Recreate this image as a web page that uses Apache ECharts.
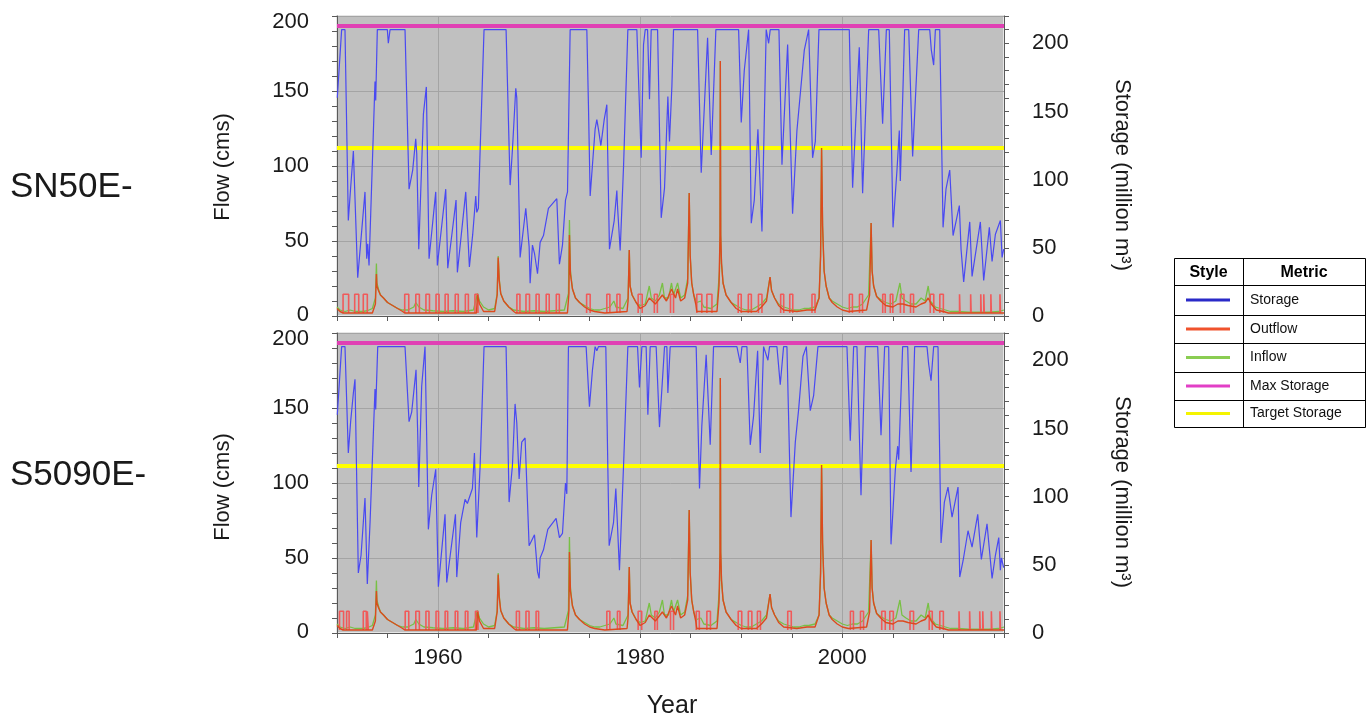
<!DOCTYPE html>
<html><head><meta charset="utf-8">
<script src="https://cdn.jsdelivr.net/npm/echarts@6/dist/echarts.min.js"></script>
<style>html,body{margin:0;padding:0;background:#fff}#c{width:1371px;height:719px}</style>
</head><body><div id="c"></div><script>
// ---------------- data ----------------
const panelNames = ['SN50E-', 'S5090E-'];
const yearRange = [1950, 2016];
const yearTickLabels = [1960, 1980, 2000];
const flowRange = [0, 200];
const storageRange = [0, 220];
const maxStorage = [213, 213];
const targetStorage = [123.5, 122.5];
const pulseLevels = [2, 14.5];

const storageTop = [[1950.03,160],[1950.46,210],[1950.79,210],[1951.12,70],[1951.35,94],[1951.62,121],[1951.78,121],[1952.05,28],[1952.77,91],[1952.94,42],[1953.04,53],[1953.17,37],[1953.76,172],[1953.83,158],[1953.99,210],[1954.98,210],[1955.08,200],[1955.25,210],[1956.73,210],[1957.13,93],[1957.49,107],[1957.79,130],[1957.89,119],[1958.09,49],[1958.55,148],[1958.84,168],[1959.11,42],[1959.77,91],[1959.93,37],[1960.76,93],[1960.96,35],[1961.78,85],[1961.91,32],[1962.74,91],[1963.10,36],[1963.43,60],[1963.73,88],[1963.83,76],[1963.99,79],[1964.16,121],[1964.55,210],[1966.73,210],[1967.13,96],[1967.36,122],[1967.69,167],[1967.79,160],[1968.12,43],[1968.68,79],[1969.01,51],[1969.11,24],[1969.34,52],[1969.54,46],[1969.84,31],[1970.10,54],[1970.43,59],[1970.92,79],[1971.75,86],[1972.01,38],[1972.31,52],[1972.41,53],[1972.61,85],[1972.81,91],[1973.07,210],[1974.72,210],[1974.88,155],[1975.05,88],[1975.28,111],[1975.54,137],[1975.71,144],[1975.87,137],[1976.11,125],[1976.44,144],[1976.70,155],[1976.96,49],[1977.43,70],[1977.69,92],[1977.76,80],[1978.02,48],[1978.35,109],[1978.78,210],[1979.67,210],[1980.10,116],[1980.33,199],[1980.50,210],[1980.73,210],[1980.92,159],[1981.09,210],[1981.72,210],[1982.08,72],[1982.41,94],[1982.74,161],[1982.90,128],[1983.14,169],[1983.30,210],[1985.68,210],[1986.04,105],[1986.67,204],[1987.03,118],[1987.49,210],[1989.74,210],[1990.00,142],[1990.30,180],[1990.73,210],[1990.99,68],[1991.29,85],[1991.65,137],[1992.05,62],[1992.47,210],[1992.71,200],[1992.87,210],[1993.73,210],[1994.03,111],[1994.59,199],[1995.08,75],[1995.51,136],[1996.24,195],[1996.67,210],[1997.06,116],[1997.33,128],[1997.69,210],[2000.69,210],[2001.02,94],[2001.68,197],[2002.01,90],[2002.61,210],[2003.60,210],[2003.99,141],[2004.36,210],[2004.65,210],[2005.02,65],[2005.41,107],[2005.64,136],[2005.74,99],[2006.17,210],[2006.57,210],[2006.96,117],[2007.56,210],[2008.65,210],[2008.81,195],[2009.04,184],[2009.21,210],[2009.64,210],[2009.97,65],[2010.26,93],[2010.63,107],[2010.96,59],[2011.58,81],[2011.75,49],[2012.01,25],[2012.61,69],[2012.84,29],[2013.66,69],[2013.99,26],[2014.55,65],[2014.82,40],[2015.15,60],[2015.64,70],[2015.81,43],[2015.97,49]];

const storageBottom = [[1950.03,160],[1950.46,210],[1950.79,210],[1951.12,132],[1951.35,155],[1951.62,176],[1951.78,186],[1952.11,44],[1952.38,57],[1952.77,99],[1953.00,36],[1953.27,81],[1953.76,179],[1953.83,164],[1954.03,210],[1956.73,210],[1957.13,155],[1957.39,162],[1957.82,193],[1957.99,145],[1958.09,107],[1958.38,181],[1958.71,210],[1959.04,76],[1959.37,101],[1959.77,120],[1960.03,34],[1960.69,87],[1960.86,37],[1961.72,87],[1961.85,41],[1962.24,81],[1962.67,98],[1962.90,95],[1963.40,106],[1963.60,132],[1963.83,70],[1964.16,122],[1964.55,210],[1966.73,210],[1967.03,96],[1967.36,123],[1967.62,168],[1967.79,154],[1968.02,113],[1968.28,140],[1968.61,143],[1969.01,64],[1969.54,72],[1969.84,45],[1970.00,40],[1970.10,55],[1970.43,61],[1970.86,76],[1971.68,84],[1972.01,70],[1972.31,73],[1972.61,110],[1972.74,102],[1972.90,210],[1974.65,210],[1974.98,166],[1975.28,193],[1975.54,210],[1975.71,207],[1975.87,210],[1976.60,210],[1976.93,64],[1977.36,81],[1977.59,106],[1977.95,46],[1978.35,122],[1978.78,210],[1979.74,210],[1979.93,180],[1980.17,210],[1980.59,210],[1980.76,160],[1980.99,210],[1981.58,210],[1981.91,151],[1982.41,210],[1982.64,210],[1982.74,176],[1982.97,210],[1985.54,210],[1985.87,106],[1986.10,152],[1986.53,204],[1986.93,138],[1987.26,210],[1989.57,210],[1989.90,198],[1990.07,210],[1990.56,210],[1990.89,138],[1991.22,159],[1991.62,207],[1991.88,132],[1992.21,210],[1992.64,200],[1992.80,210],[1993.53,210],[1993.86,182],[1994.19,210],[1994.52,210],[1994.92,85],[1995.35,140],[1995.68,164],[1996.11,203],[1996.44,210],[1996.83,163],[1997.16,174],[1997.59,210],[2000.46,210],[2000.79,141],[2001.12,210],[2001.45,210],[2001.85,101],[2002.28,210],[2003.50,210],[2003.83,145],[2004.19,210],[2004.59,210],[2004.82,65],[2005.25,120],[2005.48,137],[2005.58,127],[2005.97,210],[2006.47,210],[2006.80,118],[2007.16,210],[2008.38,210],[2008.55,197],[2008.78,185],[2009.04,210],[2009.47,210],[2009.77,66],[2010.10,96],[2010.46,107],[2010.86,85],[2011.45,107],[2011.62,41],[2011.95,53],[2012.44,75],[2012.84,63],[2013.40,87],[2013.76,54],[2014.32,80],[2014.82,40],[2015.15,57],[2015.48,70],[2015.64,46],[2015.74,55],[2015.97,48]];

const inflow = [[1950.0,6],[1950.3,4],[1950.8,3],[1951.3,4],[1951.8,3],[1952.5,3],[1953.0,3.5],[1953.5,5],[1953.8,12],[1953.9,35],[1953.95,22],[1954.1,18],[1954.3,14],[1954.6,12],[1955.0,9],[1955.5,7],[1956.0,5],[1956.5,4],[1957.0,4],[1957.6,6],[1957.8,9],[1958.1,6],[1958.6,4],[1959.5,3.5],[1960.5,3],[1961.5,3.5],[1962.5,3],[1963.5,4],[1963.9,15],[1964.1,10],[1964.5,6],[1965.0,4],[1965.6,5],[1965.85,15],[1965.95,40],[1966.05,25],[1966.2,15],[1966.5,10],[1967.0,6],[1967.5,4],[1968.5,3],[1969.5,3.5],[1970.5,3],[1971.5,3.5],[1972.5,4],[1972.9,15],[1973.0,64],[1973.1,30],[1973.3,18],[1973.6,12],[1974.0,9],[1974.5,7],[1975.0,5],[1975.5,4],[1976.0,4],[1976.5,5],[1977.0,6],[1977.4,10],[1977.6,6],[1978.3,5],[1978.8,12],[1978.92,44],[1979.0,20],[1979.2,14],[1979.6,9],[1980.0,7],[1980.5,8],[1980.9,20],[1981.1,12],[1981.5,10],[1981.9,14],[1982.2,22],[1982.4,12],[1982.8,12],[1983.1,22],[1983.3,14],[1983.7,22],[1984.0,12],[1984.4,14],[1984.7,25],[1984.85,82],[1984.95,40],[1985.1,22],[1985.3,14],[1985.6,9],[1986.0,10],[1986.3,6],[1987.0,5],[1987.6,8],[1987.85,30],[1987.9,54],[1987.93,170],[1987.97,54],[1988.05,35],[1988.2,22],[1988.5,14],[1989.0,9],[1989.5,7],[1990.0,5],[1990.5,4],[1991.0,4],[1991.5,6],[1992.0,8],[1992.5,12],[1992.85,26],[1993.0,17],[1993.3,12],[1993.7,8],[1994.2,6],[1994.7,5],[1995.2,4],[1995.7,4],[1996.2,5],[1996.7,5],[1997.3,6],[1997.7,12],[1997.85,40],[1997.95,112],[1998.05,60],[1998.2,30],[1998.4,20],[1998.7,12],[1999.0,10],[1999.5,8],[2000.0,6],[2000.5,5],[2001.0,6],[2001.5,6],[2002.0,8],[2002.6,14],[2002.85,62],[2002.95,30],[2003.1,20],[2003.4,13],[2003.8,11],[2004.3,9],[2004.8,8],[2005.3,10],[2005.7,22],[2005.9,12],[2006.3,10],[2006.8,8],[2007.3,8],[2007.8,12],[2008.2,10],[2008.5,20],[2008.7,10],[2009.2,6],[2009.7,5],[2010.2,4],[2010.7,3],[2011.5,3],[2012.5,2.5],[2013.5,2.5],[2014.5,2.5],[2015.5,3],[2016.0,4]];

const outflowSpill = [[1950.0,5],[1950.3,3],[1950.6,2],[1953.5,2],[1953.8,8],[1953.9,28],[1953.95,20],[1954.1,17],[1954.3,14],[1954.6,12],[1955.0,9],[1955.5,7],[1956.0,5],[1956.5,3],[1956.7,2],[1963.8,2],[1963.9,14],[1964.1,8],[1964.5,3],[1965.6,3],[1965.85,14],[1965.95,39],[1966.05,24],[1966.2,15],[1966.5,10],[1967.0,6],[1967.5,3],[1967.7,2],[1972.8,2],[1972.95,15],[1973.0,54],[1973.1,28],[1973.3,18],[1973.6,12],[1974.0,9],[1974.5,6],[1975.0,4],[1975.5,3],[1976.5,2],[1978.7,3],[1978.8,10],[1978.92,44],[1979.0,20],[1979.2,14],[1979.6,9],[1980.0,5],[1980.5,7],[1980.9,12],[1981.5,8],[1982.2,14],[1982.6,10],[1983.1,18],[1983.5,12],[1983.7,18],[1984.0,10],[1984.4,12],[1984.7,22],[1984.85,82],[1984.95,40],[1985.1,22],[1985.3,14],[1985.5,8],[1985.6,3],[1987.6,3],[1987.8,20],[1987.9,54],[1987.93,170],[1987.97,54],[1988.05,35],[1988.2,22],[1988.5,14],[1989.0,9],[1989.5,5],[1990.0,3],[1991.5,3],[1992.0,6],[1992.5,10],[1992.85,26],[1993.0,17],[1993.3,12],[1993.7,7],[1994.2,4],[1995.5,3],[1996.5,4],[1997.3,4],[1997.7,12],[1997.85,40],[1997.95,112],[1998.05,60],[1998.2,30],[1998.4,20],[1998.7,12],[1999.0,9],[1999.5,6],[2000.0,4],[2000.6,3],[2002.4,4],[2002.7,14],[2002.85,62],[2002.95,30],[2003.1,20],[2003.4,13],[2003.8,10],[2004.3,7],[2005.0,6],[2005.5,8],[2006.0,8],[2006.5,7],[2007.3,6],[2007.8,8],[2008.2,9],[2008.5,12],[2008.8,8],[2009.3,4],[2010.0,3],[2010.5,2],[2016.0,2]];

const pulsesTop = [[1950.6,1951.15],[1951.75,1952.15],[1952.6,1953.0],[1956.7,1957.1],[1957.8,1958.15],[1958.8,1959.15],[1959.8,1960.1],[1960.7,1961.0],[1961.7,1962.0],[1962.7,1963.0],[1963.65,1963.95],[1967.8,1968.1],[1968.7,1969.05],[1969.7,1970.0],[1970.7,1971.0],[1971.7,1972.0],[1974.7,1975.05],[1976.7,1977.0],[1977.7,1978.0],[1979.8,1980.2],[1981.4,1981.7],[1983.0,1983.3],[1985.6,1986.1],[1986.6,1987.1],[1989.7,1990.0],[1990.7,1991.0],[1991.7,1992.05],[1993.9,1994.2],[1994.8,1995.1],[1997.0,1997.3],[2000.7,2001.0],[2001.7,2002.0],[2004.0,2004.25],[2004.75,2005.0],[2005.75,2006.1],[2006.75,2007.05],[2008.7,2009.05],[2009.65,2010.0],[2011.6,2011.65],[2012.7,2012.75],[2013.7,2013.75],[2014.0,2014.05],[2014.7,2014.75],[2015.6,2015.65]];

const pulsesBottom = [[1950.25,1950.65],[1950.95,1951.2],[1952.6,1952.9],[1953.0,1953.1],[1956.75,1957.1],[1957.8,1958.15],[1958.8,1959.1],[1959.8,1960.05],[1960.7,1960.95],[1961.7,1961.95],[1962.7,1962.95],[1963.7,1963.95],[1967.75,1968.05],[1968.7,1969.0],[1969.7,1969.95],[1976.7,1977.0],[1977.75,1978.0],[1979.8,1980.15],[1981.45,1981.7],[1983.0,1983.3],[1985.55,1985.85],[1986.6,1986.95],[1989.7,1990.05],[1990.7,1991.05],[1991.6,1991.9],[1994.6,1994.95],[2000.8,2001.1],[2001.8,2002.1],[2003.9,2004.25],[2004.7,2005.05],[2006.7,2007.05],[2008.6,2008.9],[2009.65,2010.0],[2011.55,2011.6],[2012.6,2012.65],[2013.6,2013.65],[2013.9,2013.95],[2014.75,2014.8],[2015.6,2015.65]];

const legendRows = [['Storage','#2a2ac8'],['Outflow','#f0522c'],['Inflow','#8acd52'],['Max Storage','#e23fc6'],['Target Storage','#f4f400']];

// ---------------- chart ----------------
const FONT = '"Liberation Sans", Arial, sans-serif';
const C = {bg:'#c0c0c0', grid:'#a4a4a4', axis:'#5a5a5a', text:'#1a1a1a',
  storage:'#4949f2', outflow:'#dc4a1e', pulse:'#f05a5a', inflow:'#78c044',
  max:'#e040b4', target:'#ffff00'};

function pulseLine(list){
  const out = [];
  list.forEach(p => {
    out.push([p[0], pulseLevels[0]], [p[0], pulseLevels[1]], [p[1], pulseLevels[1]], [p[1], pulseLevels[0]], [p[1], '-']);
  });
  return out;
}

const gridTops = [16, 333];
const grids = gridTops.map(t => ({left:337, top:t, width:667, height:300, show:true,
  backgroundColor:C.bg, borderColor:'#e6e6e6', borderWidth:2}));

const xAxes = [0,1].map(i => ({
  gridIndex:i, type:'value', min:yearRange[0], max:yearRange[1], interval:5,
  axisLine:{show:true, lineStyle:{color:C.axis, width:1}},
  axisTick:{show:true, length:5, lineStyle:{color:C.axis}},
  axisLabel:{show:i===1, margin:14, fontSize:22, color:C.text, fontFamily:FONT,
    formatter:v => yearTickLabels.includes(v) ? String(v) : ''},
  splitLine:{show:true, lineStyle:{color:['transparent','transparent',C.grid,'transparent'], width:1}}
}));

const yAxes = [];
[0,1].forEach(i => {
  yAxes.push({gridIndex:i, type:'value', position:'left', min:flowRange[0], max:flowRange[1], interval:50,
    axisLine:{show:true, lineStyle:{color:C.axis}},
    axisTick:{show:true, length:5, lineStyle:{color:C.axis}},
    minorTick:{show:true, splitNumber:5, length:5, lineStyle:{color:C.axis}},
    axisLabel:{margin:28, fontSize:22, color:C.text, fontFamily:FONT,
      formatter:v => v === flowRange[1] ? '{top|' + v + '}' : (v === 0 ? '{bot|0}' : String(v)),
      rich:{top:{fontSize:22, fontFamily:FONT, color:C.text, padding:[12,0,0,0]},
            bot:{fontSize:22, fontFamily:FONT, color:C.text, padding:[0,0,2,0]}}},
    splitLine:{show:true, lineStyle:{color:C.grid, width:1}}});
  yAxes.push({gridIndex:i, type:'value', position:'right', min:storageRange[0], max:storageRange[1], interval:10,
    axisLine:{show:true, lineStyle:{color:C.axis}},
    axisTick:{show:true, length:5, lineStyle:{color:C.axis}},
    axisLabel:{margin:28, fontSize:22, color:C.text, fontFamily:FONT,
      formatter:v => (v % 50 === 0) ? String(v) : ''},
    splitLine:{show:false}});
});

const series = [];
const storages = [storageTop, storageBottom];
const pulses = [pulsesTop, pulsesBottom];
[0,1].forEach(i => {
  series.push({type:'line', xAxisIndex:i, yAxisIndex:2*i, data:inflow, showSymbol:false, z:3,
    lineStyle:{color:C.inflow, width:1.3}, animation:false});
  series.push({type:'line', xAxisIndex:i, yAxisIndex:2*i, data:pulseLine(pulses[i]), showSymbol:false, z:4,
    connectNulls:false, lineStyle:{color:C.pulse, width:1.6}, animation:false});
  series.push({type:'line', xAxisIndex:i, yAxisIndex:2*i, data:outflowSpill, showSymbol:false, z:5,
    lineStyle:{color:C.outflow, width:1.4}, animation:false});
  series.push({type:'line', xAxisIndex:i, yAxisIndex:2*i+1, data:storages[i], showSymbol:false, z:6,
    lineStyle:{color:C.storage, width:1.2}, animation:false,
    markLine:{silent:true, symbol:'none', animation:false, label:{show:false},
      data:[{yAxis:maxStorage[i], lineStyle:{color:C.max, width:4, type:'solid'}},
            {yAxis:targetStorage[i], lineStyle:{color:C.target, width:4, type:'solid'}}]}});
});

const graphic = [];
const panelCenters = [187, 475];
panelNames.forEach((n, i) => {
  graphic.push({type:'text', x:10, y:panelCenters[i], style:{text:n, font:'35px '+FONT, fill:C.text, align:'left', verticalAlign:'middle'}});
});
const flowNameY = [167, 487];
const storNameY = [175, 492];
[0,1].forEach(i => {
  graphic.push({type:'text', x:223, y:flowNameY[i], rotation:Math.PI/2,
    style:{text:'Flow (cms)', font:'22px '+FONT, fill:C.text, align:'center', verticalAlign:'middle'}});
  graphic.push({type:'text', x:1122, y:storNameY[i], rotation:-Math.PI/2,
    style:{text:'Storage (million m³)', font:'22px '+FONT, fill:C.text, align:'center', verticalAlign:'middle'}});
});
graphic.push({type:'text', x:672, y:706, style:{text:'Year', font:'25px '+FONT, fill:C.text, align:'center', verticalAlign:'middle'}});

// legend table
const TX = 1174, TY = 258, TW = 191, colX = 1243;
const rowYs = [258, 285, 315, 343, 372, 400, 427];
graphic.push({type:'rect', shape:{x:TX+0.5, y:TY+0.5, width:TW, height:rowYs[6]-TY}, style:{fill:'#fff', stroke:'#000', lineWidth:1}});
graphic.push({type:'line', shape:{x1:colX+0.5, y1:TY, x2:colX+0.5, y2:rowYs[6]}, style:{stroke:'#000', lineWidth:1}});
for (let k = 1; k < 6; k++) {
  graphic.push({type:'line', shape:{x1:TX, y1:rowYs[k]+0.5, x2:TX+TW, y2:rowYs[k]+0.5}, style:{stroke:'#000', lineWidth:1}});
}
graphic.push({type:'text', x:(TX+colX)/2, y:(rowYs[0]+rowYs[1])/2+1, style:{text:'Style', font:'bold 16px '+FONT, fill:'#000', align:'center', verticalAlign:'middle'}});
graphic.push({type:'text', x:(colX+TX+TW)/2, y:(rowYs[0]+rowYs[1])/2+1, style:{text:'Metric', font:'bold 16px '+FONT, fill:'#000', align:'center', verticalAlign:'middle'}});
legendRows.forEach((r, k) => {
  const cy = (rowYs[k+1] + rowYs[k+2]) / 2;
  graphic.push({type:'line', shape:{x1:1186, y1:cy, x2:1230, y2:cy}, style:{stroke:r[1], lineWidth:3}});
  graphic.push({type:'text', x:1250, y:cy, style:{text:r[0], font:'14px '+FONT, fill:'#111', align:'left', verticalAlign:'middle'}});
});

const chart = echarts.init(document.getElementById('c'), null, {renderer:'canvas'});
chart.setOption({animation:false, grid:grids, xAxis:xAxes, yAxis:yAxes, series:series, graphic:graphic});
</script></body></html>
